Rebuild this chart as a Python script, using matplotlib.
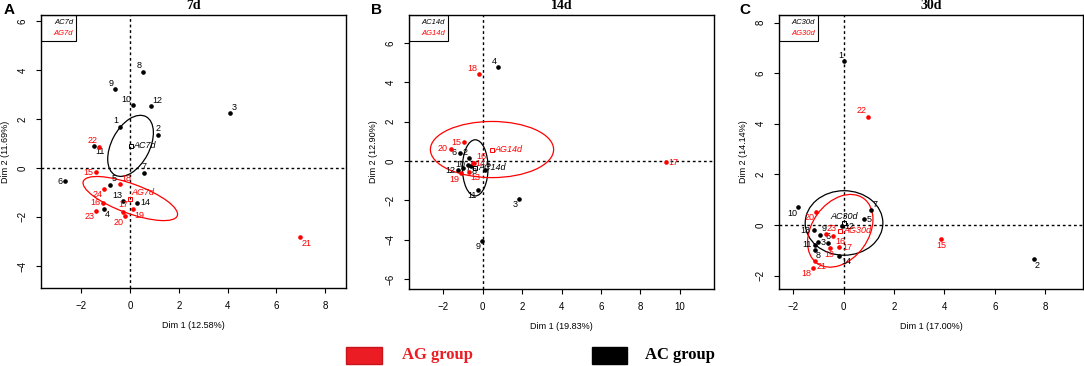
import numpy as np
import matplotlib.pyplot as plt
from matplotlib.patches import Ellipse, Rectangle

plt.rcParams['font.family'] = ['Liberation Sans', 'DejaVu Sans']

# ---- painel A : 7d ----
a_ids = list(range(1, 25))
a_x = [-0.41, 1.16, 4.1, -1.08, -0.83, -2.65, 0.57, 0.52, -0.63, 0.1, -1.48, 0.85,
       -0.27, 0.3, -1.38, -1.12, -0.27, -0.4, 0.11, -0.2, 6.98, -1.26, -1.39, -1.05]
a_y = [1.69, 1.36, 2.24, -1.66, -0.68, -0.54, -0.22, 3.92, 3.2, 2.57, 0.89, 2.53,
       -1.36, -1.43, -0.18, -1.43, -1.78, -0.67, -1.69, -1.97, -2.83, 0.86, -1.74, -0.86]
a_grp = ['AC'] * 14 + ['AG'] * 10
a_pos = ['tl', 't', 'tr', 'br', 'tr', 'l', 't', 'tl', 'tl', 'tl', 'br', 'tr',
         'tl', 'r', 'l', 'l', 't', 'tr', 'br', 'bl', 'br', 'tl', 'bl', 'bl']
# elipses (x, y, largura, altura, angulo)
a_ell_ac = (0.02, 0.9, 2.7, 1.56, 62)
a_ell_ag = (0.01, -1.25, 4.1, 1.2, -20)

# ---- painel B : 14d ----
b_ids = [2, 3, 4, 5, 6, 7, 8, 9, 10, 11, 12, 13, 14, 15, 16, 17, 18, 19, 20]
b_x = [-0.72, 1.85, 0.78, 0.1, -1.17, -1.0, -0.62, -0.02, -0.75, -0.24, -1.27,
       -0.7, -0.5, -0.95, -0.42, 9.29, -0.19, -1.1, -1.62]
b_y = [0.15, -1.93, 4.77, -0.46, 0.42, -0.38, -0.25, -4.05, -0.2, -1.47, -0.46,
       -0.54, -0.12, 0.95, -0.08, -0.07, 4.42, -0.62, 0.61]
b_grp = ['AC'] * 11 + ['AG'] * 8
b_pos = ['tl', 'bl', 'tl', 'tr', 'l', 'r', 'br', 'bl', 'l', 'bl', 'l',
         'br', 'r', 'l', 'tr', 'r', 'tl', 'bl', 'l']
b_ell_ac = (-0.38, -0.35, 1.3, 2.85, 0)
b_ell_ag = (0.47, 0.58, 6.25, 2.85, 0)

# ---- painel C : 30d ----
c_ids = [1, 2, 3, 5, 6, 7, 8, 9, 10, 11, 12, 13, 14, 15, 16, 17, 18, 19, 20, 21, 22, 23]
c_x = [0.03, 7.54, -1.0, 0.82, -0.6, 1.09, -1.15, -0.92, -1.79, -1.15, -0.06, -1.19, -0.16,
       3.86, -0.4, -0.17, -1.23, -0.55, -1.08, -1.12, 0.98, -0.71]
c_y = [6.48, -1.36, -0.68, 0.22, -0.72, 0.59, -0.99, -0.38, 0.7, -0.79, -0.04, -0.2, -1.23,
       -0.55, -0.42, -0.88, -1.69, -0.92, 0.53, -1.41, 4.28, -0.37]
c_grp = ['AC'] * 13 + ['AG'] * 9
c_pos = ['tl', 'br', 'r', 'r', 't', 'tr', 'br', 'tr', 'bl', 'l', 'r', 'l', 'br',
         'b', 'br', 'r', 'bl', 'b', 'bl', 'br', 'tl', 'tr']
c_ell_ac = (0.02, 0.08, 3.08, 2.55, 0)
c_ell_ag = (-0.13, -0.23, 3.16, 2.24, 54)

cores = {'AC': 'black', 'AG': 'red'}
offs = {'l': (-2, 0, 'right', 'center'), 'r': (2, 0, 'left', 'center'),
        't': (0, 1.5, 'center', 'bottom'), 'b': (0, -1.5, 'center', 'top'),
        'tl': (-1, 1, 'right', 'bottom'), 'tr': (1, 1, 'left', 'bottom'),
        'bl': (-1, -1, 'right', 'top'), 'br': (1, -1, 'left', 'top')}


def painel(ax, ids, xs, ys, grp, pos, ell_ac, ell_ag, nome_ac, nome_ag, pos_ac, pos_ag,
           xlim, ylim, xt, yt, xlab, ylab, titulo):
    ax.axhline(0, color='black', linestyle=(0, (2, 2)), lw=1, zorder=1)
    ax.axvline(0, color='black', linestyle=(0, (2, 2)), lw=1, zorder=1)

    for e, cor in [(ell_ac, 'black'), (ell_ag, 'red')]:
        ax.add_patch(Ellipse((e[0], e[1]), e[2], e[3], angle=e[4], fill=False,
                             edgecolor=cor, lw=0.9, zorder=2))

    for i, x, y, g, p in zip(ids, xs, ys, grp, pos):
        ax.plot(x, y, 'o', color=cores[g], ms=2.3, zorder=3)
        dx, dy, ha, va = offs[p]
        ax.annotate(str(i), (x, y), xytext=(dx, dy), textcoords='offset points',
                    ha=ha, va=va, fontsize=6.5, color=cores[g])

    for e, nome, cor, p in [(ell_ac, nome_ac, 'black', pos_ac), (ell_ag, nome_ag, 'red', pos_ag)]:
        ax.plot(e[0], e[1], 's', mfc='none', mec=cor, ms=3, mew=0.7, zorder=3)
        dx, dy, ha, va = offs[p]
        ax.annotate(nome, (e[0], e[1]), xytext=(dx, dy), textcoords='offset points',
                    ha=ha, va=va, fontsize=6.5, color=cor, style='italic')

    ax.set_xlim(xlim)
    ax.set_ylim(ylim)
    ax.set_xticks(xt)
    ax.set_yticks(yt)
    ax.tick_params(labelsize=7, length=3.5, width=0.8, pad=6)
    for lb in ax.get_yticklabels():
        lb.set_rotation(90)
        lb.set_va('center')
    for s in ax.spines.values():
        s.set_linewidth(1)

    ax.text(0.5, -0.138, xlab, transform=ax.transAxes, ha='center', va='center', fontsize=6.5)
    ax.text(-0.118, 0.5, ylab, transform=ax.transAxes, ha='center', va='center',
            fontsize=6.5, rotation=90)
    ax.text(0.5, 1.033, titulo, transform=ax.transAxes, ha='center', va='center',
            fontsize=10, fontweight='bold', family='Liberation Serif')

    # legenda no canto
    larg = 0.105 if len(nome_ac) < 5 else 0.118
    ax.add_patch(Rectangle((0, 0.905), larg + 0.01, 0.095,
                           transform=ax.transAxes, fill=False, edgecolor='black', lw=0.8))
    ax.text(larg, 0.972, nome_ac, transform=ax.transAxes, ha='right', va='center',
            fontsize=5.5, color='black', style='italic')
    ax.text(larg, 0.933, nome_ag, transform=ax.transAxes, ha='right', va='center',
            fontsize=5.5, color='red', style='italic')


fig = plt.figure(figsize=(10.84, 3.66), dpi=100)
ax1 = fig.add_axes([41 / 1084, 1 - 288 / 366, 305 / 1084, 273 / 366])
ax2 = fig.add_axes([409 / 1084, 1 - 289 / 366, 305 / 1084, 274 / 366])
ax3 = fig.add_axes([779 / 1084, 1 - 289 / 366, 304 / 1084, 274 / 366])

painel(ax1, a_ids, a_x, a_y, a_grp, a_pos, a_ell_ac, a_ell_ag, 'AC7d', 'AG7d', 'r', 'tr',
       (-3.65, 8.85), (-4.9, 6.24), range(-2, 9, 2), range(-4, 7, 2),
       'Dim 1 (12.58%)', 'Dim 2 (11.69%)', '7d')
painel(ax2, b_ids, b_x, b_y, b_grp, b_pos, b_ell_ac, b_ell_ag, 'AC14d', 'AG14d', 'r', 'r',
       (-3.74, 11.73), (-6.5, 7.41), range(-2, 11, 2), range(-6, 7, 2),
       'Dim 1 (19.83%)', 'Dim 2 (12.90%)', '14d')
painel(ax3, c_ids, c_x, c_y, c_grp, c_pos, c_ell_ac, c_ell_ag, 'AC30d', 'AG30d', 't', 'r',
       (-2.56, 9.5), (-2.53, 8.3), range(-2, 9, 2), range(-2, 9, 2),
       'Dim 1 (17.00%)', 'Dim 2 (14.14%)', '30d')

# letras dos paineis
for letra, xp in [('A', 9), ('B', 377), ('C', 745)]:
    fig.text(xp / 1084, 1 - 10.5 / 366, letra, fontsize=11, fontweight='bold',
             ha='center', va='center')

# legenda de baixo
fig.patches.append(Rectangle((346 / 1084, 1 - 364 / 366), 36 / 1084, 17 / 366,
                             transform=fig.transFigure, facecolor='#ec1c24', edgecolor='#c8141c'))
fig.text(402 / 1084, 1 - 355 / 366, 'AG group', color='#ec1c24', fontsize=12,
         fontweight='bold', family='Liberation Serif', va='center')
fig.patches.append(Rectangle((592 / 1084, 1 - 364 / 366), 35 / 1084, 17 / 366,
                             transform=fig.transFigure, facecolor='black', edgecolor='black'))
fig.text(645 / 1084, 1 - 355 / 366, 'AC group', color='black', fontsize=12,
         fontweight='bold', family='Liberation Serif', va='center')

fig.savefig('out.png', dpi=100)
